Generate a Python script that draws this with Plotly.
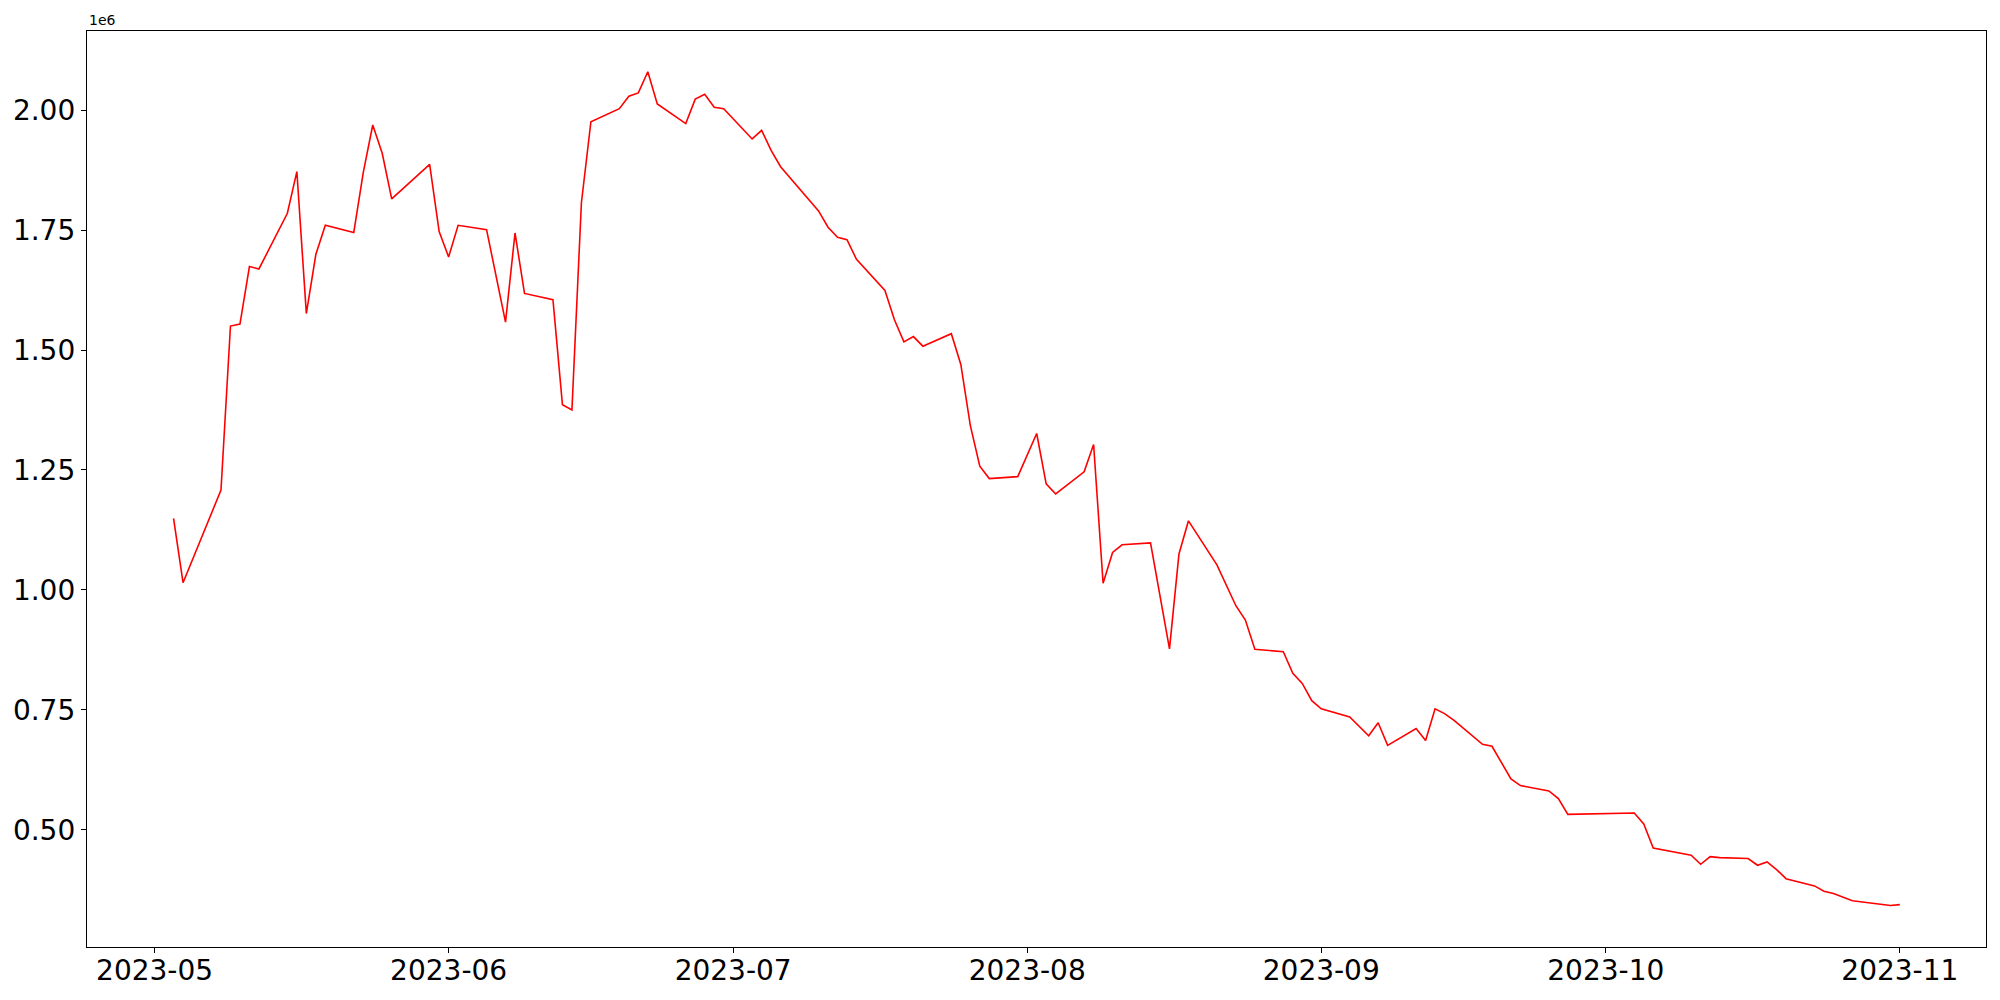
import plotly.graph_objects as go

# dates and values (in units of 1e6)
dates = [
    "2023-05-03", "2023-05-04", "2023-05-08", "2023-05-09", "2023-05-10", "2023-05-11", "2023-05-12",
    "2023-05-15", "2023-05-16", "2023-05-17", "2023-05-18", "2023-05-19",
    "2023-05-22", "2023-05-23", "2023-05-24", "2023-05-25", "2023-05-26",
    "2023-05-30", "2023-05-31", "2023-06-01", "2023-06-02",
    "2023-06-05", "2023-06-07", "2023-06-08", "2023-06-09",
    "2023-06-12", "2023-06-13", "2023-06-14", "2023-06-15", "2023-06-16",
    "2023-06-19", "2023-06-20", "2023-06-21", "2023-06-22", "2023-06-23",
    "2023-06-26", "2023-06-27", "2023-06-28", "2023-06-29", "2023-06-30",
    "2023-07-03", "2023-07-04", "2023-07-05", "2023-07-06",
    "2023-07-10", "2023-07-11", "2023-07-12", "2023-07-13", "2023-07-14",
    "2023-07-17", "2023-07-18", "2023-07-19", "2023-07-20", "2023-07-21",
    "2023-07-24", "2023-07-25", "2023-07-26", "2023-07-27", "2023-07-28",
    "2023-07-31", "2023-08-02", "2023-08-03", "2023-08-04",
    "2023-08-07", "2023-08-08", "2023-08-09", "2023-08-10", "2023-08-11",
    "2023-08-14", "2023-08-16", "2023-08-17", "2023-08-18",
    "2023-08-21", "2023-08-23", "2023-08-24", "2023-08-25",
    "2023-08-28", "2023-08-29", "2023-08-30", "2023-08-31", "2023-09-01",
    "2023-09-04", "2023-09-06", "2023-09-07", "2023-09-08",
    "2023-09-11", "2023-09-12", "2023-09-13", "2023-09-14", "2023-09-15",
    "2023-09-18", "2023-09-19", "2023-09-21", "2023-09-22",
    "2023-09-25", "2023-09-26", "2023-09-27",
    "2023-10-04", "2023-10-05", "2023-10-06",
    "2023-10-10", "2023-10-11", "2023-10-12", "2023-10-13",
    "2023-10-16", "2023-10-17", "2023-10-18", "2023-10-19", "2023-10-20",
    "2023-10-23", "2023-10-24", "2023-10-25", "2023-10-27",
    "2023-10-30", "2023-10-31", "2023-11-01",
]
values = [
    1.149, 1.015, 1.208, 1.550, 1.554, 1.674, 1.669,
    1.785, 1.872, 1.576, 1.699, 1.760,
    1.745, 1.870, 1.969, 1.910, 1.815,
    1.887, 1.747, 1.694, 1.760,
    1.751, 1.558, 1.744, 1.618,
    1.605, 1.386, 1.375, 1.807, 1.976,
    2.003, 2.029, 2.036, 2.080, 2.013,
    1.972, 2.023, 2.033, 2.006, 2.003,
    1.940, 1.958, 1.916, 1.882,
    1.790, 1.756, 1.735, 1.730, 1.689,
    1.624, 1.563, 1.517, 1.528, 1.508,
    1.534, 1.470, 1.343, 1.258, 1.232,
    1.236, 1.326, 1.221, 1.200,
    1.246, 1.303, 1.014, 1.078, 1.094,
    1.098, 0.877, 1.075, 1.144,
    1.052, 0.967, 0.937, 0.876,
    0.871, 0.826, 0.805, 0.769, 0.752,
    0.735, 0.696, 0.723, 0.676,
    0.711, 0.686, 0.752, 0.742, 0.728,
    0.678, 0.674, 0.606, 0.592,
    0.581, 0.565, 0.532,
    0.535, 0.512, 0.462,
    0.447, 0.428, 0.444, 0.442,
    0.440, 0.426, 0.433, 0.417, 0.398,
    0.383, 0.372, 0.367, 0.352,
    0.345, 0.342, 0.344,
]

month_ticks = ["2023-05-01", "2023-06-01", "2023-07-01", "2023-08-01",
               "2023-09-01", "2023-10-01", "2023-11-01"]
month_labels = ["2023-05", "2023-06", "2023-07", "2023-08", "2023-09", "2023-10", "2023-11"]
y_ticks = [0.50, 0.75, 1.00, 1.25, 1.50, 1.75, 2.00]
y_labels = ["0.50", "0.75", "1.00", "1.25", "1.50", "1.75", "2.00"]

fig = go.Figure()
fig.add_trace(go.Scatter(x=dates, y=values, mode="lines",
                         line=dict(color="#ff0000", width=1.6)))

fig.update_layout(
    width=2000, height=1000,
    margin=dict(l=87, r=14, t=31, b=53, autoexpand=False),
    plot_bgcolor="white", paper_bgcolor="white",
    font=dict(family="DejaVu Sans", color="black", size=28),
    showlegend=False,
)
fig.update_xaxes(
    range=["2023-04-23 21:00", "2023-11-10 02:00"],
    tickvals=month_ticks, ticktext=month_labels,
    showgrid=False, zeroline=False, automargin=False,
    showline=True, mirror=True, linecolor="black", linewidth=1.3,
    ticks="outside", ticklen=5, tickcolor="black", ticklabelstandoff=-7,
)
fig.update_yaxes(
    range=[0.2556, 2.165],
    tickvals=y_ticks, ticktext=y_labels,
    showgrid=False, zeroline=False, automargin=False,
    showline=True, mirror=True, linecolor="black", linewidth=1.3,
    ticks="outside", ticklen=5, tickcolor="black",
)
fig.add_annotation(text="1e6", xref="paper", yref="paper", x=0, y=1,
                   xanchor="left", yanchor="bottom", showarrow=False,
                   font=dict(size=14, color="black"), yshift=1)

# drop the page's default body margin so the figure sits at the window origin
fig.write_html("out.html", config={"displayModeBar": False},
               post_script="document.body.style.margin='0';document.body.style.overflow='hidden';")
